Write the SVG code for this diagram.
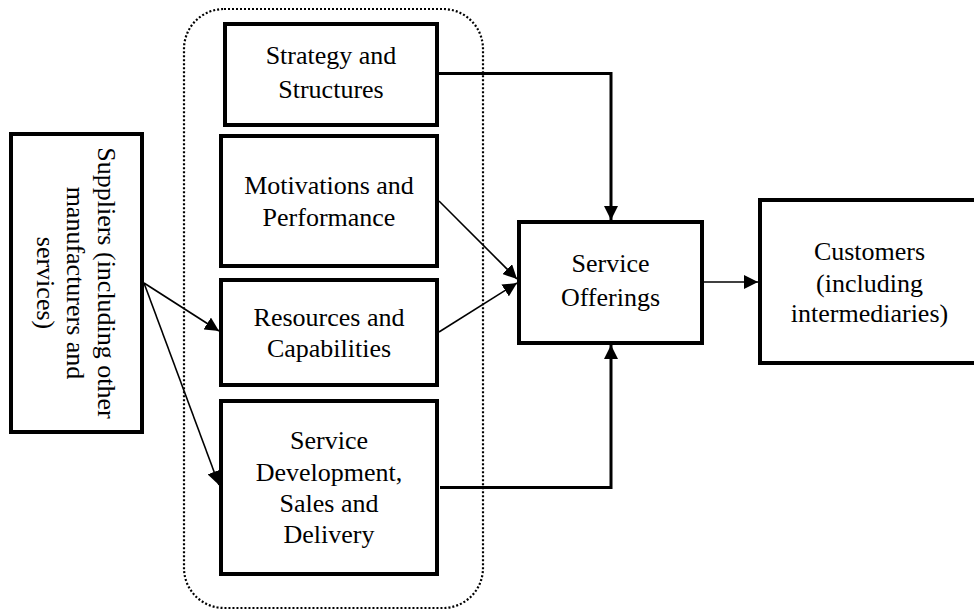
<svg xmlns="http://www.w3.org/2000/svg" width="974" height="612" viewBox="0 0 974 612">
<style>
.box{fill:#fff;stroke:#000;stroke-width:4}
.t{font-family:"Liberation Serif","Times New Roman",serif;font-size:26px;fill:#000;text-anchor:middle}
.thin{fill:none;stroke:#000;stroke-width:1.6}
.thick{fill:none;stroke:#000;stroke-width:3}
</style>
<defs>
<marker id="ah" viewBox="0 0 14 14" refX="14" refY="7" markerWidth="14" markerHeight="14" orient="auto" markerUnits="userSpaceOnUse">
<path d="M0,0 L14,7 L0,14 z" fill="#000"/>
</marker>
</defs>
<rect width="974" height="612" fill="#fff"/>
<rect id="group-boundary" x="184" y="9" width="299" height="599" rx="40" ry="40" fill="none" stroke="#000" stroke-width="2.2" stroke-dasharray="2 2"/>
<g id="connectors">
<path class="thick" d="M439,73.5 H611 V220" marker-end="url(#ah)"/>
<path class="thick" d="M440,487.5 H611 V345" marker-end="url(#ah)"/>
<path class="thin" d="M439,201 L517,279" marker-end="url(#ah)"/>
<path class="thin" d="M439,332 L517,283" marker-end="url(#ah)"/>
<path class="thin" d="M144,283 L219,331" marker-end="url(#ah)"/>
<path class="thin" d="M144,283 L219,485" marker-end="url(#ah)"/>
<path class="thin" d="M704,282 L758,282" marker-end="url(#ah)"/>
</g>
<g id="suppliers">
<rect class="box" x="11" y="134" width="131" height="298"/>
<text class="t" transform="translate(97.5,283) rotate(90)"><tspan x="0" y="0">Suppliers (including other</tspan><tspan x="0" dy="30.5">manufacturers and</tspan><tspan x="0" dy="30.5">services)</tspan></text>
</g>
<g id="strategy">
<rect class="box" x="225" y="24" width="212" height="101"/>
<text class="t"><tspan x="331" y="64.3">Strategy and</tspan><tspan x="331" y="97.7">Structures</tspan></text>
</g>
<g id="motivations">
<rect class="box" x="221" y="136" width="216" height="130"/>
<text class="t"><tspan x="329" y="194.3">Motivations and</tspan><tspan x="329" y="225.7">Performance</tspan></text>
</g>
<g id="resources">
<rect class="box" x="221" y="280" width="216" height="105"/>
<text class="t"><tspan x="329" y="326">Resources and</tspan><tspan x="329" y="357.3">Capabilities</tspan></text>
</g>
<g id="service-development">
<rect class="box" x="221" y="401" width="216" height="173"/>
<text class="t"><tspan x="329" y="449">Service</tspan><tspan x="329" y="480.7">Development,</tspan><tspan x="329" y="512">Sales and</tspan><tspan x="329" y="543.3">Delivery</tspan></text>
</g>
<g id="service-offerings">
<rect class="box" x="519" y="222" width="183" height="121"/>
<text class="t"><tspan x="610.5" y="272.3">Service</tspan><tspan x="610.5" y="306">Offerings</tspan></text>
</g>
<g id="customers">
<rect class="box" x="760" y="200" width="216" height="163"/>
<text class="t"><tspan x="869.5" y="260">Customers</tspan><tspan x="869.5" y="291.7">(including</tspan><tspan x="869.5" y="322">intermediaries)</tspan></text>
</g>
</svg>
